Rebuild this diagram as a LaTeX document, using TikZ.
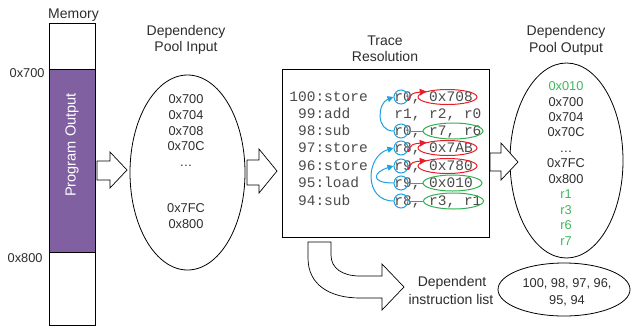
\documentclass[tikz,border=0pt]{standalone}
\usepackage{fontspec}
\setmainfont{Liberation Sans}
\setmonofont{Liberation Mono}
\usetikzlibrary{shapes.geometric,arrows.meta,calc}
\definecolor{txt}{RGB}{45,45,45}
\definecolor{ctxt}{RGB}{75,75,75}
\definecolor{purp}{RGB}{128,96,160}
\definecolor{bl}{RGB}{30,160,225}
\definecolor{rd}{RGB}{230,30,40}
\definecolor{gr}{RGB}{50,175,80}
\definecolor{grt}{RGB}{60,185,90}
\begin{document}
\begin{tikzpicture}[x=1pt,y=-1pt, line width=0.8pt,
  lbl/.style={text=txt, font=\fontsize{12.8}{14}\selectfont, inner sep=0pt, anchor=base},
  glbl/.style={lbl, text=grt},
  ttl/.style={text=txt, font=\fontsize{14}{16}\selectfont, inner sep=0pt, anchor=base},
  code/.style={text=ctxt, font=\ttfamily\fontsize{14.5}{16}\selectfont, inner sep=0pt, anchor=base west},
  bcirc/.style={circle, draw=bl, line width=1pt, minimum size=14pt, inner sep=0pt},
  rell/.style={ellipse, draw=rd, line width=1pt, minimum width=59pt, minimum height=15pt, inner sep=0pt},
  gell/.style={ellipse, draw=gr, line width=1pt, minimum width=60pt, minimum height=16pt, inner sep=0pt},
  barr/.style={draw=bl, line width=1pt, -{Triangle[length=6pt,width=6pt]}},
  bline/.style={draw=bl, line width=1pt},
  rarr/.style={draw=rd, line width=1pt, -{Triangle[length=6.5pt,width=6.5pt]}},
  blockarrow/.style={draw=black, fill=white, line width=0.7pt, line join=miter},
  pool/.style={ellipse, draw=black, line width=0.8pt, inner sep=0pt},
]
\useasboundingbox (0,0) rectangle (631,330);
\fill[white] (0,0) rectangle (631,330);

% Memory
\node[ttl] (memt) at (73.5,18.3) {Memory};
\node[draw, line width=0.8pt, minimum width=46pt, minimum height=302pt, inner sep=0pt, anchor=north west] (mem) at (49,23) {};
\node[draw, fill=purp, line width=0.8pt, minimum width=46pt, minimum height=183pt, inner sep=0pt, anchor=north west] (prog) at (49,69) {};
\node[rotate=90, text=white, font=\fontsize{14.6}{16}\selectfont, inner sep=0pt] (progt) at (72,145) {Program Output};
\node[lbl, anchor=base east] (m700) at (45,77.6) {0x700};
\node[lbl, anchor=base east] (m800) at (43,262.6) {0x800};

% arrow 1
\draw[blockarrow] (97,161) -- (110,161) -- (110,152) -- (127,170) -- (110,188) -- (110,180) -- (97,180) -- cycle;

% Pool input
\node[ttl] (pint1) at (186,35) {Dependency};
\node[ttl] (pint2) at (186,51.7) {Pool Input};
\node[pool, minimum width=115pt, minimum height=195pt] (pin) at (187.5,172.5) {};
\node[lbl] (pi1) at (186,103.6) {0x700};
\node[lbl] (pi2) at (186,119.3) {0x704};
\node[lbl] (pi3) at (186,135) {0x708};
\node[lbl] (pi4) at (186,150.7) {0x70C};
\node[lbl] (pi5) at (186,166.4) {\dots};
\node[lbl] (pi6) at (186,212.3) {0x7FC};
\node[lbl] (pi7) at (186,228) {0x800};

% arrow 2
\draw[blockarrow] (247,160) -- (259,160) -- (259,149) -- (277,171) -- (259,193) -- (259,185) -- (247,185) -- cycle;

% Trace resolution
\node[ttl] (trt1) at (385,45) {Trace};
\node[ttl] (trt2) at (385,61.7) {Resolution};
\node[draw, line width=0.8pt, minimum width=207pt, minimum height=168pt, inner sep=0pt, anchor=north west] (trace) at (282,69) {};

\node[code] (l100) at (289,101.5) {100:store};
\node[code] (l99) at (297.7,118.5) {99:add};
\node[code] (l98) at (297.7,135.5) {98:sub};
\node[code] (l97) at (297.7,152.5) {97:store};
\node[code] (l96) at (297.7,170.5) {96:store};
\node[code] (l95) at (297.7,187.5) {95:load};
\node[code] (l94) at (297.7,205.5) {94:sub};

\node[code] (o100) at (394,101.5) {r0, 0x708};
\node[code] (o99) at (394,118.5) {r1, r2, r0};
\node[code] (o98) at (394,135.5) {r0, r7, r6};
\node[code] (o97) at (394,152.5) {r8, 0x7AB};
\node[code] (o96) at (394,170.5) {r9, 0x780};
\node[code] (o95) at (394,187.5) {r9, 0x010};
\node[code] (o94) at (394,205.5) {r8, r3, r1};

\node[bcirc] (c100) at (401,97) {};
\node[bcirc] (c98) at (401,131) {};
\node[bcirc] (c97) at (401,148) {};
\node[bcirc] (c96) at (401,166) {};
\node[bcirc] (c95) at (401,183) {};
\node[bcirc] (c94) at (401,201) {};

\node[rell] (r100) at (447.5,97) {};
\node[rell] (r97) at (447.5,148) {};
\node[rell] (r96) at (447.5,166) {};
\node[gell] (g98) at (453,131) {};
\node[gell, minimum width=59pt] (g95) at (452.5,183) {};
\node[gell] (g94) at (453.5,201) {};

\draw[bline] (c98.east) -- (g98.west);
\draw[bline] (c95.east) -- (g95.west);
\draw[bline] (c94.east) -- (g94.west);

\draw[rarr] (c100.-25) .. controls ($(c100.-25)+(4,-7)$) .. (r100.north west);
\draw[rarr] (c97.-25) .. controls ($(c97.-25)+(4,-7)$) .. (r97.north west);
\draw[rarr] (c96.-25) .. controls ($(c96.-25)+(4,-7)$) .. (r96.north west);

\draw[barr] (c98.west) .. controls ($(c98.west)+(-18,0)$) and ($(c100.west)+(-16,6)$) .. (c100.west);
\draw[barr] (c94.west) .. controls ($(c94.west)+(-30,0)$) and ($(c97.west)+(-28,8)$) .. (c97.west);
\draw[barr] (c95.west) .. controls ($(c95.west)+(-24,0)$) and ($(c96.west)+(-20,6)$) .. (c96.west);

% Pool output
\node[ttl] (pot1) at (566,35) {Dependency};
\node[ttl] (pot2) at (566,52.5) {Pool Output};
\node[pool, minimum width=113pt, minimum height=195pt] (pout) at (566.5,160.5) {};
\node[glbl] (po1) at (566,90.5) {0x010};
\node[lbl] (po2) at (566,106) {0x700};
\node[lbl] (po3) at (566,121.4) {0x704};
\node[lbl] (po4) at (566,136.9) {0x70C};
\node[lbl] (po5) at (566,152.3) {\dots};
\node[lbl] (po6) at (566,167.8) {0x7FC};
\node[lbl] (po7) at (566,183.2) {0x800};
\node[glbl] (po8) at (566,198.7) {r1};
\node[glbl] (po9) at (566,214.1) {r3};
\node[glbl] (po10) at (566,229.6) {r6};
\node[glbl] (po11) at (566,245) {r7};

% arrow 3
\draw[blockarrow] (490,153) -- (501,153) -- (501,143) -- (518,162) -- (501,180) -- (501,171) -- (490,171) -- cycle;

% curved arrow
\draw[blockarrow] (308,242) -- (308,258) .. controls (308,285) and (330,298) .. (360,298) -- (382,298) -- (382,310) -- (404,287) -- (382,264) -- (382,276) -- (360,276) .. controls (342,276) and (331,268) .. (331,255) -- (331,242) -- cycle;

\node[ttl] (dep1) at (452,286.7) {Dependent};
\node[ttl] (dep2) at (451,304) {instruction list};

\node[pool, minimum width=132pt, minimum height=53pt] (dlist) at (564,289.5) {};
\node[lbl] (dl1) at (567,287.3) {100, 98, 97, 96,};
\node[lbl] (dl2) at (567,304) {95, 94};
\end{tikzpicture}
\end{document}
